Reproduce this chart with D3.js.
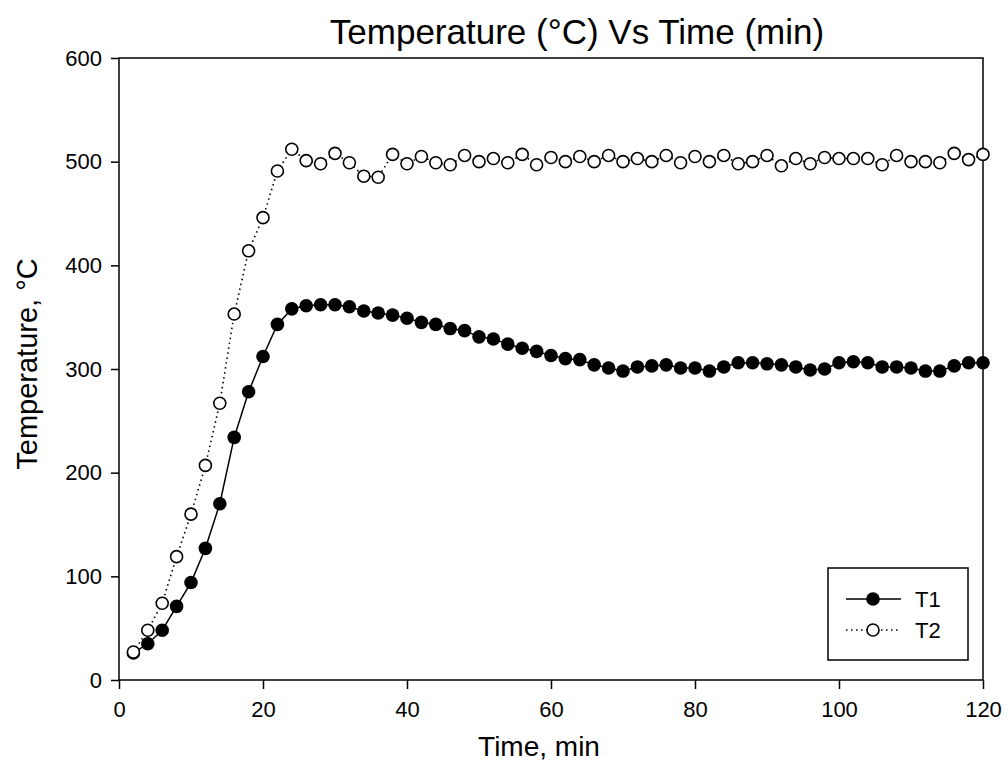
<!DOCTYPE html>
<html>
<head>
<meta charset="utf-8">
<script src="https://cdn.jsdelivr.net/npm/d3@7"></script>
<style>
  body { margin: 0; background: #fff; }
  text { font-family: "Liberation Sans", Arial, sans-serif; fill: #000; }
</style>
</head>
<body>
<svg id="chart" width="1008" height="762"></svg>
<script>
// time, min
const time = [2, 4, 6, 8, 10, 12, 14, 16, 18, 20, 22, 24, 26, 28, 30, 32, 34, 36, 38, 40,
  42, 44, 46, 48, 50, 52, 54, 56, 58, 60, 62, 64, 66, 68, 70, 72, 74, 76, 78, 80,
  82, 84, 86, 88, 90, 92, 94, 96, 98, 100, 102, 104, 106, 108, 110, 112, 114, 116, 118, 120]

// T1 (filled)
const t1 = [26, 35, 48, 71, 94, 127, 170, 234, 278, 312, 343, 358, 361, 362, 362, 360, 356, 354, 352, 349,
  345, 343, 339, 337, 331, 329, 324, 320, 317, 313, 310, 309, 304, 301, 298, 302, 303, 304, 301, 301,
  298, 302, 306, 306, 305, 304, 302, 299, 300, 306, 307, 306, 302, 302, 301, 298, 298, 303, 306, 306]

// T2 (open)
const t2 = [27, 48, 74, 119, 160, 207, 267, 353, 414, 446, 491, 512, 501, 498, 508, 499, 486, 485, 507, 498,
  505, 499, 497, 506, 500, 503, 499, 507, 497, 504, 500, 505, 500, 506, 500, 503, 500, 506, 499, 505,
  500, 506, 498, 500, 506, 496, 503, 498, 504, 503, 503, 503, 497, 506, 500, 500, 499, 508, 502, 507]

const xTicks = [0, 20, 40, 60, 80, 100, 120]
const yTicks = [0, 100, 200, 300, 400, 500, 600]

const margin = {top: 58, right: 25, bottom: 82, left: 119}
const W = 1008, H = 762
const w = W - margin.left - margin.right
const h = H - margin.top - margin.bottom

const svg = d3.select('#chart')
const g = svg.append('g').attr('transform', `translate(${margin.left},${margin.top})`)

const x = d3.scaleLinear().domain([0, 120]).range([0, w])
const y = d3.scaleLinear().domain([0, 600]).range([h, 0])

// 坐标轴
const xAxis = g.append('g')
  .attr('transform', `translate(0,${h})`)
  .call(d3.axisBottom(x).tickValues(xTicks).tickSize(9).tickPadding(12).tickFormat(d3.format('d')))
const yAxis = g.append('g')
  .call(d3.axisLeft(y).tickValues(yTicks).tickSize(8).tickPadding(9).tickFormat(d3.format('d')))

;[xAxis, yAxis].forEach((a) => {
  a.select('.domain').remove()
  a.selectAll('line').attr('stroke', '#000').attr('stroke-width', 1.5)
  a.selectAll('text').style('font-size', '22px').attr('fill', '#000')
})

// 边框
g.append('rect')
  .attr('width', w).attr('height', h)
  .attr('fill', 'none').attr('stroke', '#000').attr('stroke-width', 1.5)

const series = [
  {name: 'T1', values: t1, filled: true, dash: null},
  {name: 'T2', values: t2, filled: false, dash: '1.5 3.5'},
]

const line = d3.line().x((d) => x(d[0])).y((d) => y(d[1]))

series.forEach((s) => {
  const pts = time.map((t, i) => [t, s.values[i]])
  g.append('path')
    .datum(pts)
    .attr('d', line)
    .attr('fill', 'none')
    .attr('stroke', '#000')
    .attr('stroke-width', s.filled ? 1.5 : 1.6)
    .attr('stroke-dasharray', s.dash)
  g.append('g').selectAll('circle')
    .data(pts)
    .join('circle')
    .attr('cx', (d) => x(d[0]))
    .attr('cy', (d) => y(d[1]))
    .attr('r', s.filled ? 6.8 : 6)
    .attr('fill', s.filled ? '#000' : '#fff')
    .attr('stroke', '#000')
    .attr('stroke-width', s.filled ? 0 : 1.6)
})

// 图例
const lg = svg.append('g').attr('transform', 'translate(828,568)')
lg.append('rect').attr('width', 140).attr('height', 92)
  .attr('fill', '#fff').attr('stroke', '#000').attr('stroke-width', 1.5)
series.forEach((s, i) => {
  const yy = 31 + i * 31
  lg.append('line').attr('x1', 18).attr('x2', 73).attr('y1', yy).attr('y2', yy)
    .attr('stroke', '#000').attr('stroke-width', 1.5).attr('stroke-dasharray', s.dash)
  lg.append('circle').attr('cx', 45).attr('cy', yy).attr('r', s.filled ? 6.8 : 6)
    .attr('fill', s.filled ? '#000' : '#fff').attr('stroke', '#000').attr('stroke-width', s.filled ? 0 : 1.6)
  lg.append('text').attr('x', 87).attr('y', yy + 8).style('font-size', '22px').text(s.name)
})

// 标题
svg.append('text')
  .attr('x', 577).attr('y', 44)
  .attr('text-anchor', 'middle')
  .style('font-size', '35px')
  .text('Temperature (°C) Vs Time (min)')

svg.append('text')
  .attr('x', 539).attr('y', 756)
  .attr('text-anchor', 'middle')
  .style('font-size', '28px')
  .text('Time, min')

svg.append('text')
  .attr('transform', `translate(37,364) rotate(-90)`)
  .attr('text-anchor', 'middle')
  .style('font-size', '29px')
  .text('Temperature, °C')
</script>
</body>
</html>
